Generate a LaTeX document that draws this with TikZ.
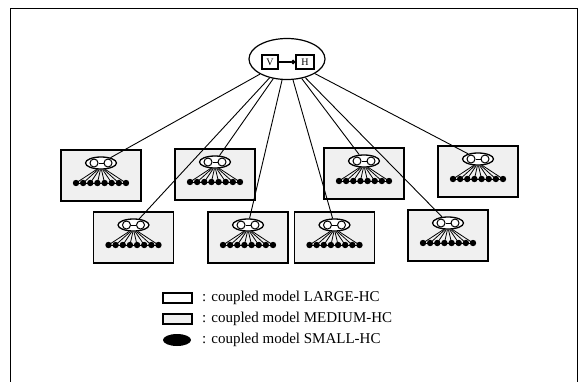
\documentclass[tikz,border=0pt]{standalone}
\usepackage{fontspec}
\setmainfont{Liberation Serif}
\usetikzlibrary{shapes.geometric,arrows.meta}

\tikzset{
  frameline/.style={line width=1pt},
  conn/.style={line width=0.9pt},
  hcbox/.style={draw, line width=1.5pt, fill=black!6, minimum width=80pt,
    minimum height=51pt, inner sep=0pt},
  smallell/.style={ellipse, draw, line width=1.3pt, fill=white,
    minimum width=31pt, minimum height=12pt, inner sep=0pt},
  port/.style={circle, draw, line width=1pt, fill=white,
    minimum size=8pt, inner sep=0pt},
  leaf/.style={circle, fill=black, minimum size=6.4pt, inner sep=0pt},
  topell/.style={ellipse, draw, line width=1.2pt, minimum width=76pt,
    minimum height=41pt, inner sep=0pt},
  atom/.style={draw, line width=1.3pt, minimum height=14pt, inner sep=0pt,
    font=\fontsize{10}{10}\selectfont},
  legbox/.style={draw, line width=1.4pt, minimum width=29pt,
    minimum height=10pt, inner sep=0pt},
  legtext/.style={anchor=west, inner sep=0pt,
    font=\fontsize{15}{17}\selectfont},
  % a coupled MEDIUM-HC box holding one LARGE ellipse and its SMALL leaves
  hcmodel/.pic={
    \node[hcbox] (-box) at (0,0) {};
    \node[smallell] (-ell) at (0,-12.5) {};
    \node[port] (-p1) at (-7,-12.5) {};
    \node[port] (-p2) at (7,-12.5) {};
    \draw[line width=1pt] (-p1) -- (-p2);
    \foreach \i in {0,...,7} {
      \node[leaf] (-d\i) at ({-25+\i*50/7}, 7.5) {};
    }
    \draw[line width=1pt] (-d0.center) -- (-d7.center);
    \foreach \i in {0,...,7} {
      \pgfmathsetmacro\ang{236+\i*68/7}
      \draw[line width=0.8pt] (-ell.\ang) -- (-d\i.center);
    }
  }
}

\begin{document}
\begin{tikzpicture}[x=1pt, y=-1pt]
  \useasboundingbox (0,0) rectangle (586,381);

  % outer frame, open below the page edge
  \draw[frameline] (10,395) -- (10,8) -- (577,8) -- (577,395);

  % top coupled model
  \node[topell] (top) at (287,59) {};
  \node[atom, minimum width=16pt] (v) at (270,62) {V};
  \node[atom, minimum width=18pt] (h) at (305,62) {H};
  \draw[line width=1.1pt, -{Circle[length=4.5pt]}] (v) -- (h);

  % the eight MEDIUM-HC boxes
  \pic (b1) at (101,175.5) {hcmodel};
  \pic (b2) at (215,174.5) {hcmodel};
  \pic (b3) at (364,173.5) {hcmodel};
  \pic (b4) at (478,171.5) {hcmodel};
  \pic (b5) at (133.5,237.5) {hcmodel};
  \pic (b6) at (248,237.5) {hcmodel};
  \pic (b7) at (334.5,237.5) {hcmodel};
  \pic (b8) at (448,235.5) {hcmodel};

  % couplings from the top model to each box
  \foreach \c in {b1,b2,b3,b4,b5,b6,b7,b8} {
    \draw[conn] (top) -- (\c-ell);
  }

  % legend
  \node[legbox, fill=white] (lg1) at (177.5,298) {};
  \node[legbox, fill=black!6] (lg2) at (177.5,319) {};
  \node[ellipse, fill=black, minimum width=28pt, minimum height=12pt,
    inner sep=0pt] (lg3) at (177,340) {};
  \node[legtext] (lt1) at (202,298) {: coupled model LARGE-HC};
  \node[legtext] (lt2) at (202,319) {: coupled model MEDIUM-HC};
  \node[legtext] (lt3) at (202,340) {: coupled model SMALL-HC};
\end{tikzpicture}
\end{document}
